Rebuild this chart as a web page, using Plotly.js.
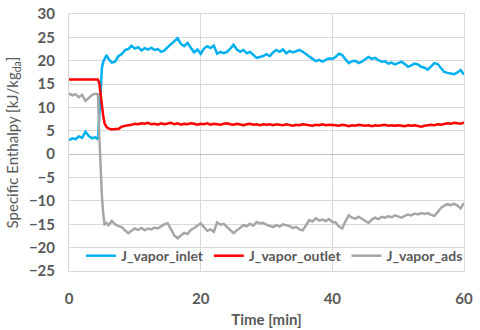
<!DOCTYPE html>
<html>
<head>
<meta charset="utf-8">
<script src="https://cdn.plot.ly/plotly-3.0.1.min.js"></script>
<style>
  body { margin: 0; background: #fff; }
  #chart { width: 480px; height: 330px; }
</style>
</head>
<body>
<div id="chart"></div>
<script>
// time axis [min]
var time = [0, 0.5, 1, 1.5, 2, 2.5, 3, 3.5, 4, 4.4, 4.6, 4.8, 5, 5.2, 5.4, 5.7,
    6, 6.5, 7, 7.5, 8, 8.5, 9, 9.5, 10, 10.5, 11, 11.5, 12, 12.5, 13, 13.5, 14, 14.5, 15, 15.5, 16, 16.5, 17, 17.5, 18, 18.5, 19, 19.5,
    20, 20.5, 21, 21.5, 22, 22.5, 23, 23.5, 24, 24.5, 25, 25.5, 26, 26.5, 27, 27.5, 28, 28.5, 29, 29.5,
    30, 30.5, 31, 31.5, 32, 32.5, 33, 33.5, 34, 34.5, 35, 35.5, 36, 36.5, 37, 37.5, 38, 38.5, 39, 39.5,
    40, 40.5, 41, 41.5, 42, 42.5, 43, 43.5, 44, 44.5, 45, 45.5, 46, 46.5, 47, 47.5, 48, 48.5, 49, 49.5,
    50, 50.5, 51, 51.5, 52, 52.5, 53, 53.5, 54, 54.5, 55, 55.5, 56, 56.5, 57, 57.5, 58, 58.5, 59, 59.5, 60];

var vaporInlet = [3.0, 3.4, 3.2, 3.8, 3.5, 4.8, 3.9, 3.4, 3.6, 3.2, 8.0, 15.0, 18.5, 19.8, 20.3, 21.2,
    20.4, 19.6, 19.8, 21.0, 21.4, 22.3, 22.5, 23.2, 22.6, 22.9, 22.2, 22.7, 22.4, 22.8, 22.3, 22.5, 21.9, 22.2, 22.9, 23.5, 24.0, 24.8, 23.6, 23.1, 23.8, 22.9, 21.8, 22.4,
    21.5, 22.6, 23.1, 22.7, 23.2, 21.5, 21.9, 21.6, 21.9, 22.6, 23.4, 22.4, 21.9, 22.3, 21.6, 21.9, 21.3, 20.6, 20.8, 21.0,
    21.4, 21.0, 21.8, 22.3, 21.9, 22.4, 21.6, 22.1, 21.8, 22.0, 22.3, 21.9, 21.3, 20.9, 20.4, 19.9, 20.2, 19.8, 20.2, 20.5,
    20.4, 20.8, 21.5, 21.2, 20.3, 19.5, 19.9, 20.0, 19.5, 19.8, 20.3, 20.8, 20.4, 20.6, 20.1, 19.8, 19.9, 19.4, 19.6, 19.2,
    19.5, 19.8, 19.3, 18.7, 19.0, 19.4, 19.2, 18.7, 18.5, 18.1, 18.8, 19.5, 19.3, 18.5, 17.6, 17.4, 17.2, 17.1, 17.5, 18.0, 17.0];

var vaporOutlet = [16, 16, 16, 16, 16, 16, 16, 16, 16, 16, 15.2, 12.5, 10.5, 8.2, 6.6, 5.8,
    5.5, 5.3, 5.4, 5.4, 5.9, 6.1, 6.2, 6.3, 6.5, 6.4, 6.6, 6.5, 6.7, 6.4, 6.5, 6.3, 6.6, 6.4, 6.5, 6.7, 6.4, 6.6, 6.3, 6.5, 6.4, 6.6, 6.5, 6.3,
    6.5, 6.4, 6.6, 6.3, 6.5, 6.4, 6.3, 6.5, 6.6, 6.4, 6.3, 6.5, 6.4, 6.2, 6.4, 6.5, 6.3, 6.4, 6.2, 6.4,
    6.3, 6.4, 6.2, 6.4, 6.3, 6.2, 6.4, 6.3, 6.1, 6.3, 6.2, 6.4, 6.3, 6.2, 6.1, 6.3, 6.2, 6.4, 6.2, 6.3,
    6.3, 6.2, 6.1, 6.3, 6.2, 6.0, 6.2, 6.1, 6.3, 6.2, 6.1, 6.2, 6.0, 6.2, 6.1, 6.2, 6.3, 6.1, 6.2, 6.1,
    6.2, 6.1, 6.0, 6.2, 6.1, 6.2, 6.1, 5.9, 6.1, 6.2, 6.3, 6.2, 6.4, 6.3, 6.5, 6.6, 6.5, 6.7, 6.6, 6.5, 6.8];

var vaporAds = [13.0, 12.6, 12.8, 12.2, 12.7, 11.4, 12.0, 12.7, 12.9, 12.8, 4.0, -3.0, -9.0, -12.7, -15.0, -14.7,
    -15.2, -14.3, -15.0, -15.4, -15.6, -16.3, -16.9, -16.4, -15.9, -16.2, -15.8, -16.3, -15.9, -16.1, -15.7, -15.9, -15.5, -15.0, -14.8, -16.0, -17.4, -18.0, -17.3, -16.8, -17.1, -16.2, -15.8, -15.2,
    -14.8, -15.6, -16.4, -16.1, -16.6, -14.6, -15.1, -14.9, -15.6, -16.2, -16.9, -16.3, -15.8, -15.2, -15.4, -14.9, -15.3, -14.5, -14.8, -14.7,
    -15.1, -15.4, -15.6, -15.2, -15.5, -15.0, -15.2, -15.4, -15.8, -15.6, -16.1, -16.3, -15.2, -14.1, -14.4, -13.7, -14.2, -14.0, -14.3, -13.9,
    -14.5, -14.6, -15.5, -15.9, -14.3, -13.1, -13.6, -13.8, -13.4, -13.9, -14.3, -14.7, -14.0, -13.6, -13.9, -13.4, -13.6, -13.3, -13.5, -13.1,
    -13.4, -13.6, -13.2, -12.9, -13.1, -12.7, -12.9, -12.6, -12.8, -12.6, -13.0, -13.2, -12.4, -11.5, -11.0, -10.7, -10.9, -10.6, -11.0, -11.6, -10.4];

var seriesNames = ['J_vapor_inlet', 'J_vapor_outlet', 'J_vapor_ads'];
var seriesColors = ['#00B0F0', '#FF0000', '#A6A6A6'];
var xTicks = [0, 20, 40, 60];
var yTicks = [-25, -20, -15, -10, -5, 0, 5, 10, 15, 20, 25, 30];

var textColor = '#595959';
var fontFamily = 'Lato, "Open Sans", sans-serif';

var traces = [vaporInlet, vaporOutlet, vaporAds].map(function (vals, i) {
    return {
        x: time,
        y: vals,
        name: seriesNames[i],
        type: 'scatter',
        mode: 'lines',
        line: { color: seriesColors[i], width: 2.5 }
    };
});

var layout = {
    width: 480,
    height: 330,
    margin: { l: 69, r: 12, t: 14, b: 59 },
    paper_bgcolor: '#fff',
    plot_bgcolor: '#fff',
    font: { family: fontFamily, color: textColor, size: 14 },
    showlegend: true,
    legend: {
        orientation: 'h',
        x: 0.52,
        xanchor: 'center',
        y: 0.058,
        yanchor: 'middle',
        bgcolor: 'rgba(0,0,0,0)',
        font: { family: fontFamily, size: 14, color: textColor, weight: 'bold' },
        itemwidth: 30,
        tracegroupgap: 0
    },
    xaxis: {
        range: [0, 60],
        tickvals: xTicks,
        showgrid: true,
        gridcolor: '#D9D9D9',
        zeroline: false,
        showline: true,
        linecolor: '#D9D9D9',
        mirror: true,
        ticks: '',
        ticklabelstandoff: 14,
        tickfont: { family: fontFamily, size: 15, color: textColor, weight: 'bold' },
        title: { text: 'Time [min]', font: { family: fontFamily, size: 15, color: textColor, weight: 'bold' }, standoff: 8 }
    },
    yaxis: {
        range: [-25, 30],
        tickvals: yTicks,
        showgrid: true,
        gridcolor: '#D9D9D9',
        zeroline: true,
        zerolinecolor: '#BFBFBF',
        zerolinewidth: 1,
        showline: true,
        linecolor: '#D9D9D9',
        mirror: true,
        ticks: '',
        ticklabelstandoff: 10,
        tickfont: { family: fontFamily, size: 15, color: textColor, weight: 'bold' },
        title: { text: 'Specific Enthalpy [kJ/kg<sub>da</sub>]', font: { family: fontFamily, size: 15, color: textColor }, standoff: 6 }
    }
};

Plotly.newPlot('chart', traces, layout, { staticPlot: true, displayModeBar: false });
</script>
</body>
</html>
